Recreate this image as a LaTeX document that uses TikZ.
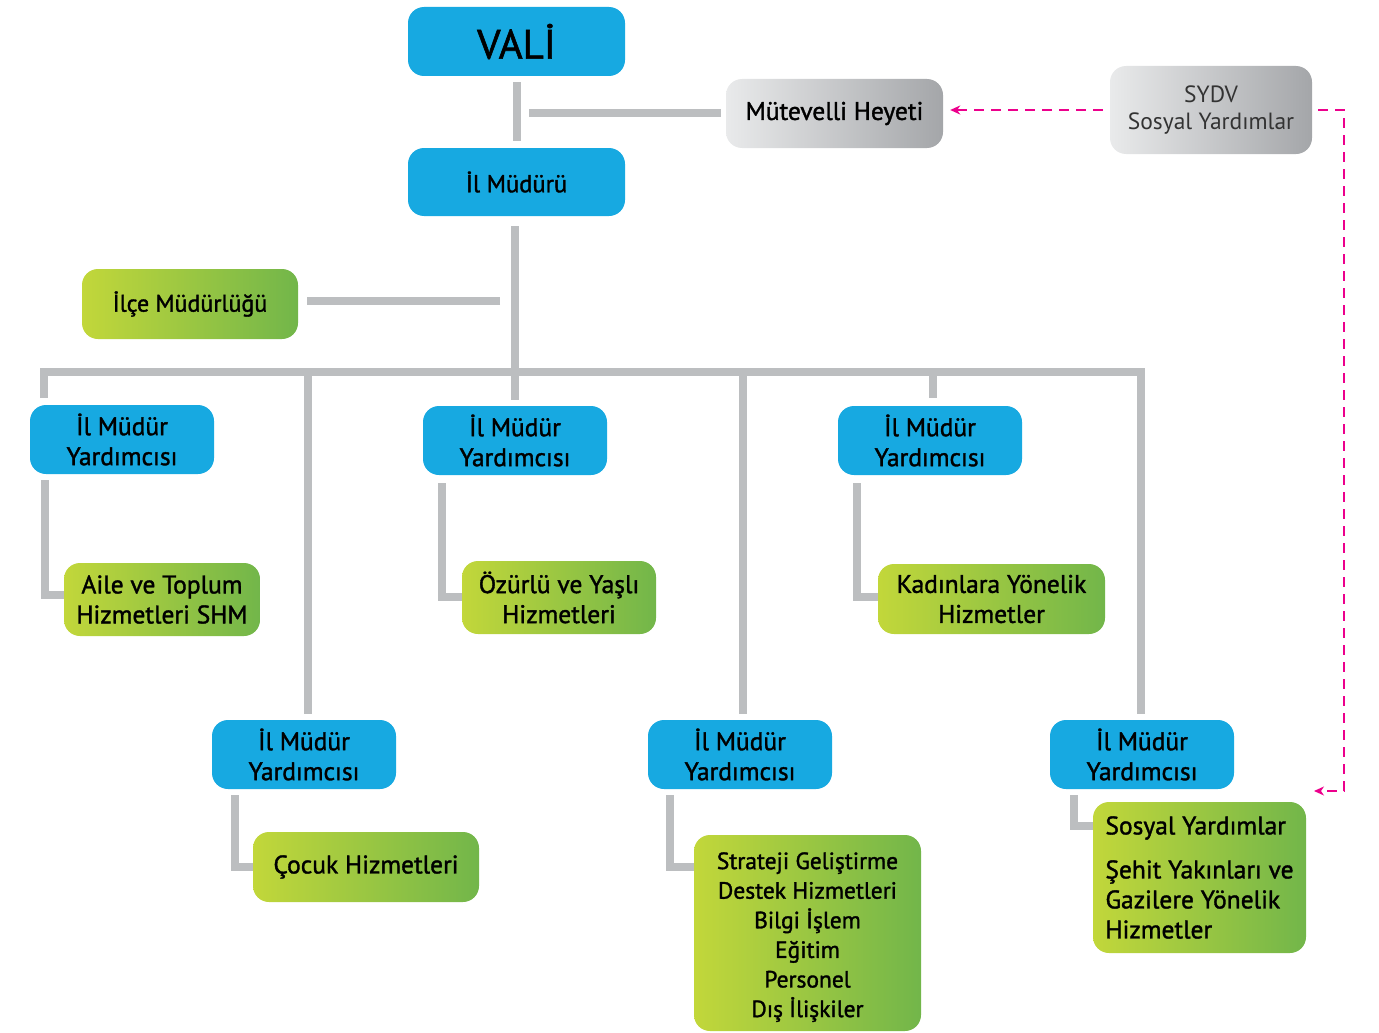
\documentclass[tikz,border=0pt]{standalone}
\usepackage{fontspec}
\setmainfont{PT Sans}[FakeBold=1.4]
\newfontfamily\lightfont{PT Sans}
\usetikzlibrary{arrows.meta}
\definecolor{boxblue}{RGB}{23,169,225}
\definecolor{gleft}{RGB}{194,215,58}
\definecolor{gright}{RGB}{114,182,74}
\definecolor{glight}{RGB}{233,234,235}
\definecolor{gdark}{RGB}{164,166,169}
\definecolor{connc}{RGB}{188,190,192}
\definecolor{mag}{RGB}{236,0,140}
\tikzset{
  box/.style={rounded corners=16pt, inner sep=0pt, align=center, text=black,
    font=\fontsize{25.5}{30}\selectfont},
  bluebox/.style={box, fill=boxblue},
  greenbox/.style={box, left color=gleft, right color=gright},
  graybox/.style={box, left color=glight, right color=gdark},
  ymbox/.style={bluebox, minimum width=184pt, minimum height=69pt},
  conn/.style={draw=connc, line width=8pt},
  magline/.style={draw=mag, line width=1.4pt, dash pattern=on 10pt off 7pt},
  magarrow/.style={magline, -{Stealth[length=10pt,width=9pt,inset=3pt]}}
}
\begin{document}
\begin{tikzpicture}[x=1pt,y=-1pt]
\useasboundingbox (0,0) rectangle (1379,1033);

% top nodes
\node[bluebox, minimum width=217pt, minimum height=69pt, font=\fontsize{41}{46}\selectfont] (vali) at (516.5,41.5) {VALİ};
\node[bluebox, minimum width=217pt, minimum height=68pt, font=\fontsize{24.5}{29}\selectfont] (ilm) at (516.5,182) {İl Müdürü};
\node[graybox, minimum width=217pt, minimum height=69pt] (mut) at (834.5,113.5) {Mütevelli Heyeti};
\node[graybox, minimum width=202pt, minimum height=88pt, text=black!80, font=\lightfont\fontsize{23.5}{27}\selectfont] (sydv) at (1211,110) {SYDV\\Sosyal Yardımlar};
\node[greenbox, minimum width=216pt, minimum height=70pt, font=\fontsize{24}{28}\selectfont] (ilce) at (190,304) {İlçe Müdürlüğü};

% deputies
\node[ymbox] (y1) at (122,439.5) {İl Müdür\\Yardımcısı};
\node[ymbox] (y2) at (515,440.5) {İl Müdür\\Yardımcısı};
\node[ymbox] (y3) at (930,440.5) {İl Müdür\\Yardımcısı};
\node[ymbox] (y4) at (304,754.5) {İl Müdür\\Yardımcısı};
\node[ymbox] (y5) at (740,754.5) {İl Müdür\\Yardımcısı};
\node[ymbox] (y6) at (1142,754.5) {İl Müdür\\Yardımcısı};

% services
\node[greenbox, minimum width=196pt, minimum height=73pt] (aile) at (162,599.5) {Aile ve Toplum\\Hizmetleri SHM};
\node[greenbox, minimum width=194pt, minimum height=73pt] (ozur) at (559,597.5) {Özürlü ve Yaşlı\\Hizmetleri};
\node[greenbox, minimum width=227pt, minimum height=70pt] (kadin) at (991.5,599) {Kadınlara Yönelik\\Hizmetler};
\node[greenbox, minimum width=226pt, minimum height=70pt] (cocuk) at (366,867) {Çocuk Hizmetleri};
\node[greenbox, minimum width=227pt, minimum height=196pt, font=\fontsize{23.5}{29.6}\selectfont] (strat) at (807.5,933)
  {\rule{0pt}{25pt}Strateji Geliştirme\\Destek Hizmetleri\\Bilgi İşlem\\Eğitim\\Personel\\Dış İlişkiler};
\node[greenbox, minimum width=213pt, minimum height=151pt, align=left] (sosyal) at (1199.5,877.5)
  {Sosyal Yardımlar\\[14pt]Şehit Yakınları ve\\Gazilere Yönelik\\Hizmetler};

% helper coordinates
\coordinate (bus) at (0,372);
\coordinate (mjoin) at (529,113);
\coordinate (ijoin) at (500,301);
\coordinate (d1) at (44,398);
\coordinate (d3) at (933,398);
\coordinate (d4) at (308,714);
\coordinate (d5) at (743,714);
\coordinate (d6) at (1141,714);
\coordinate (e1) at (45,480);   \coordinate (f1) at (45,595);
\coordinate (e2) at (442,483);  \coordinate (f2) at (442,597);
\coordinate (e3) at (857,483);  \coordinate (f3) at (857,597);
\coordinate (e4) at (235,795);  \coordinate (f4) at (235,867);
\coordinate (e5) at (670,795);  \coordinate (f5) at (670,867);
\coordinate (e6) at (1074,795); \coordinate (f6) at (1074,826);

% gray connectors
\draw[conn, shorten <=6pt, shorten >=7pt] (vali.south) -- (ilm.north);
\draw[conn, shorten >=5pt] (mjoin) -- (mjoin -| mut.west);
\draw[conn, shorten <=10pt, shorten >=6pt] (ilm.south -| y2.north) -- (y2.north);
\draw[conn, shorten >=9pt] (ijoin) -- (ijoin -| ilce.east);
\draw[conn] (d1) -- (d1 |- bus) -- (d6 |- bus) -- (d6);
\draw[conn] ([yshift=3pt]d4 |- bus) -- (d4);
\draw[conn] ([yshift=3pt]d5 |- bus) -- (d5);
\draw[conn] (d3 |- bus) -- (d3);
\foreach \i/\b in {1/aile,2/ozur,3/kadin,4/cocuk,5/strat,6/sosyal}{
  \draw[conn] (e\i) -- (f\i) -- (f\i -| \b.west);
}

% magenta dashed connectors
\draw[magarrow, shorten <=7pt, shorten >=7pt] (sydv.west) -- (sydv.west -| mut.east);
\coordinate (m1) at (1344,110);
\coordinate (m2) at (1344,791);
\coordinate (m3) at (1314,791);
\draw[magarrow, shorten <=6pt] (sydv.east) -- (m1) -- (m2) -- (m3);
\end{tikzpicture}
\end{document}
